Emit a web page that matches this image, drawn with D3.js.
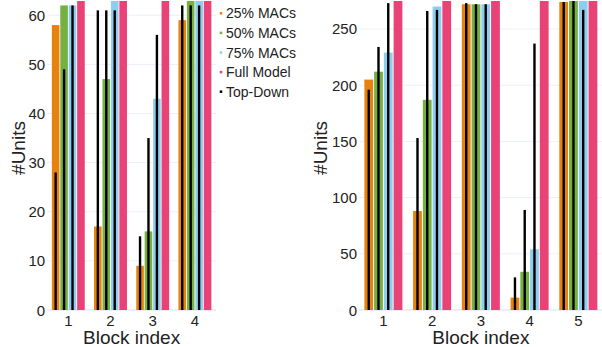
<!DOCTYPE html>
<html>
<head>
<meta charset="utf-8">
<script src="https://cdn.jsdelivr.net/npm/d3@7"></script>
<style>
  body { margin: 0; background: #fff; }
  text { font-family: "Liberation Sans", Arial, sans-serif; fill: #222; }
</style>
</head>
<body>
<div id="chart-container"></div>
<script>
// units kept per block, left panel (4 blocks) and right panel (5 blocks)
const blocksA = ["1", "2", "3", "4"];
const macs25A = [58, 17, 9, 59];
const macs50A = [62, 47, 16, 63];
const macs75A = [62, 63, 43, 63];
const fullA = [64, 64, 64, 64];
const topDown25A = [28, 61, 15, 62];
const topDown50A = [49, 61, 35, 62];
const topDown75A = [62, 61, 56, 62];
const ticksA = [0, 10, 20, 30, 40, 50, 60];

const blocksB = ["1", "2", "3", "4", "5"];
const macs25B = [205, 88, 272, 11, 274];
const macs50B = [212, 187, 272, 34, 275];
const macs75B = [229, 270, 272, 54, 276];
const fullB = [276, 276, 276, 276, 276];
const topDown25B = [196, 153, 273, 29, 274];
const topDown50B = [234, 266, 272, 89, 275];
const topDown75B = [273, 267, 272, 237, 267];
const ticksB = [0, 50, 100, 150, 200, 250];

const seriesNames = ["25% MACs", "50% MACs", "75% MACs", "Full Model", "Top-Down"];
const colors = ["#E6820E", "#76B041", "#8DCDF0", "#E84277", "#000000"];

let width = 602;
let height = 347;

const svg = d3.select("#chart-container")
    .append("svg")
    .attr("width", width)
    .attr("height", height);

const defs = svg.append("defs");

function drawPanel(id, blocks, bars, topDown, ticks, yMax, x0, x1, yTitleX) {
    const yTop = 1, yBottom = 310;

    const x = d3.scaleBand()
        .domain(blocks)
        .range([x0, x1])
        .paddingInner(0.2)
        .paddingOuter(0.1);

    const xInner = d3.scaleBand()
        .domain(d3.range(bars.length))
        .range([0, x.bandwidth()])
        .paddingInner(0.1)
        .paddingOuter(0.05);

    const y = d3.scaleLinear()
        .domain([0, yMax])
        .range([yBottom, yTop]);

    defs.append("clipPath")
        .attr("id", "clip" + id)
        .append("rect")
        .attr("x", x0)
        .attr("y", yTop)
        .attr("width", x1 - x0)
        .attr("height", yBottom - yTop);

    // grid
    svg.append("g")
        .selectAll("line")
        .data(ticks)
        .enter()
        .append("line")
        .attr("x1", x0)
        .attr("x2", x1)
        .attr("y1", d => y(d))
        .attr("y2", d => y(d))
        .attr("stroke", "#EBF0F8")
        .attr("stroke-width", d => d === 0 ? 2 : 1);

    const g = svg.append("g").attr("clip-path", "url(#clip" + id + ")");

    bars.forEach(function (values, s) {
        g.append("g")
            .selectAll("rect")
            .data(values)
            .enter()
            .append("rect")
            .attr("x", (d, i) => x(blocks[i]) + xInner(s))
            .attr("y", d => y(d))
            .attr("width", xInner.bandwidth())
            .attr("height", d => yBottom - y(d))
            .attr("fill", colors[s]);
    });

    // top-down bars sit in the middle of the 25/50/75% bars
    const tdWidth = 2.4;
    topDown.forEach(function (values, s) {
        g.append("g")
            .selectAll("rect")
            .data(values)
            .enter()
            .append("rect")
            .attr("x", (d, i) => x(blocks[i]) + xInner(s) + xInner.bandwidth() / 2 - tdWidth / 2)
            .attr("y", d => y(d))
            .attr("width", tdWidth)
            .attr("height", d => yBottom - y(d))
            .attr("fill", "#000");
    });

    // y tick labels
    svg.append("g")
        .selectAll("text")
        .data(ticks)
        .enter()
        .append("text")
        .attr("x", x0 - 2)
        .attr("y", d => y(d) + 5.5)
        .attr("text-anchor", "end")
        .attr("font-size", 15)
        .text(d => d);

    // x tick labels
    svg.append("g")
        .selectAll("text")
        .data(blocks)
        .enter()
        .append("text")
        .attr("x", d => x(d) + x.bandwidth() / 2)
        .attr("y", 326)
        .attr("text-anchor", "middle")
        .attr("font-size", 15)
        .text(d => d);

    svg.append("text")
        .attr("x", (x0 + x1) / 2)
        .attr("y", 344)
        .attr("text-anchor", "middle")
        .attr("font-size", 19)
        .text("Block index");

    svg.append("text")
        .attr("transform", "translate(" + yTitleX + ",148) rotate(-90)")
        .attr("text-anchor", "middle")
        .attr("font-size", 19)
        .text("#Units");
}

drawPanel("A", blocksA,
    [macs25A, macs50A, macs75A, fullA],
    [topDown25A, topDown50A, topDown75A],
    ticksA, 62.9, 47.2, 216, 25);

drawPanel("B", blocksB,
    [macs25B, macs50B, macs75B, fullB],
    [topDown25B, topDown50B, topDown75B],
    ticksB, 274.9, 359, 602.7, 327);

// legend
const legend = svg.append("g")
    .selectAll("g")
    .data(seriesNames)
    .enter()
    .append("g")
    .attr("transform", (d, i) => "translate(221," + (13.3 + i * 19.6) + ")");

legend.append("rect")
    .attr("x", -1.25)
    .attr("y", -1.25)
    .attr("width", 2.5)
    .attr("height", 2.5)
    .attr("fill", (d, i) => colors[i]);

legend.append("text")
    .attr("x", 5)
    .attr("y", 5)
    .attr("font-size", 14)
    .text(d => d);
</script>
</body>
</html>
